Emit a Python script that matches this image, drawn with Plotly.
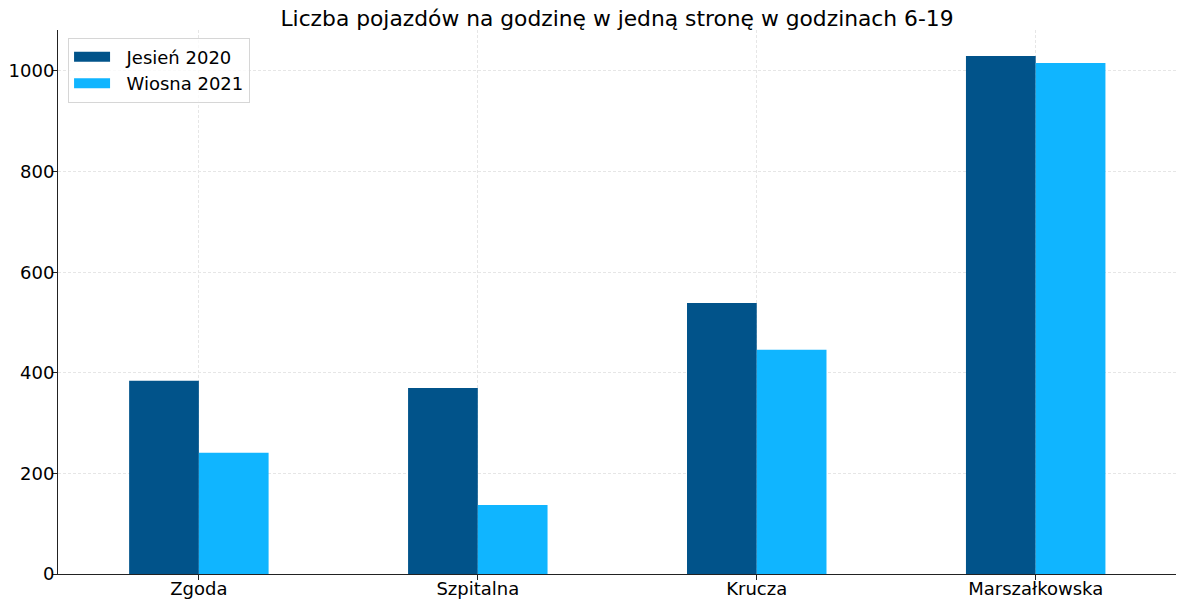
import plotly.graph_objects as go

# Dane: liczba pojazdów na godzinę w jedną stronę (godz. 6-19)
ulice = ["Zgoda", "Szpitalna", "Krucza", "Marszałkowska"]
jesien_2020 = [384, 370, 539, 1030]
wiosna_2021 = [241, 137, 446, 1016]
serie = ["Jesień 2020", "Wiosna 2021"]
kolory = ["#01538a", "#10b5ff"]
y_ticks = [0, 200, 400, 600, 800, 1000]

fig = go.Figure()
for nazwa, wartosci, kolor in zip(serie, [jesien_2020, wiosna_2021], kolory):
    fig.add_trace(go.Bar(
        name=nazwa,
        x=ulice,
        y=wartosci,
        marker_color=kolor,
        marker_line_width=0,
        showlegend=False,
    ))
    # legenda w stylu matplotlib (szeroki prostokąt)
    fig.add_trace(go.Scatter(
        name="\u00a0\u00a0" + nazwa,
        x=[None],
        y=[None],
        mode="lines",
        line=dict(color=kolor, width=14),
    ))

fig.update_layout(
    width=1182,
    height=606,
    margin=dict(l=58, r=6, t=30, b=32),
    paper_bgcolor="white",
    plot_bgcolor="white",
    font=dict(family="DejaVu Sans", size=18, color="black"),
    title=dict(
        text="Liczba pojazdów na godzinę w jedną stronę w godzinach 6-19",
        font=dict(size=21.8),
        x=0.5, xref="paper", xanchor="center",
        y=1 - 18 / 606, yref="container", yanchor="middle",
    ),
    barmode="group",
    bargap=0.5,
    bargroupgap=0,
    legend=dict(
        x=0.009, y=0.986, xanchor="left", yanchor="top",
        bgcolor="rgba(255,255,255,0.8)",
        bordercolor="#d6d6d6", borderwidth=1,
        font=dict(size=18),
        itemwidth=36,
        tracegroupgap=0,
    ),
)
fig.update_xaxes(
    range=[-0.505, 3.503],
    showline=True, linecolor="#222", linewidth=1,
    ticks="outside", ticklen=5, tickcolor="#222",
    ticklabelstandoff=-7,
    showgrid=True, gridcolor="#e6e6e6", griddash="3px,2px", gridwidth=0.8,
    layer="above traces",
    automargin=False,
)
fig.update_yaxes(
    range=[0, 1081.5],
    tickvals=y_ticks,
    showline=True, linecolor="#222", linewidth=1,
    ticks="outside", ticklen=5, tickcolor="#222",
    ticklabelstandoff=-6,
    showgrid=True, gridcolor="#e6e6e6", griddash="3px,2px", gridwidth=0.8,
    zeroline=False,
    layer="above traces",
    automargin=False,
)

fig.write_html(
    "out.html",
    config={"displayModeBar": False},
    post_script="document.body.style.margin='0';",
)
